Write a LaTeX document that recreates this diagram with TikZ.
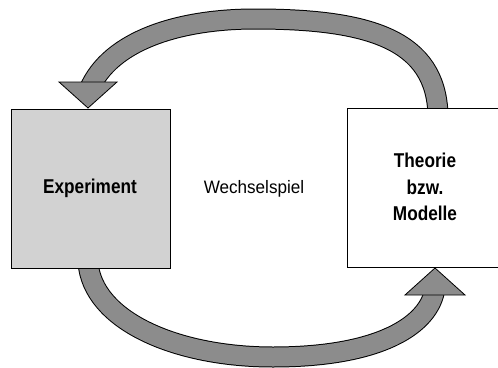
\documentclass[tikz,border=0pt]{standalone}
\usepackage{fontspec}
\usetikzlibrary{calc}
\newfontfamily\condfont[FakeStretch=0.86]{Liberation Sans}
\newfontfamily\narrowfont[FakeStretch=0.95]{Liberation Sans}
\definecolor{arrowgray}{HTML}{8C8C8C}
\definecolor{boxgray}{HTML}{D2D2D2}
\tikzset{
  panel/.style={draw=black, line width=0.8pt, inner sep=0pt, anchor=north west},
  boldlabel/.style={font=\condfont\bfseries\fontsize{20}{26.5}\selectfont, inner sep=0pt, align=center},
  plainlabel/.style={font=\narrowfont\fontsize{18}{22}\selectfont, inner sep=0pt},
  bandout/.style={draw=black, line width=21pt},
  bandin/.style={draw=arrowgray, line width=19pt},
  headtri/.style={fill=arrowgray, draw=black, line width=0.8pt, line join=miter}
}
\begin{document}
\begin{tikzpicture}[x=1pt,y=-1pt]
\useasboundingbox (0,0) rectangle (498,367);
% anchor coordinates
\coordinate (topstart) at (438,115);
\coordinate (toppeak) at (255,19);
\coordinate (topend) at (89,90);
\coordinate (toptip) at (88,108);
\coordinate (botstart) at (88,262);
\coordinate (botpeak) at (273,357);
\coordinate (botend) at (435,288);
\coordinate (bottip) at (435,268);
% top arrow (Theorie -> Experiment)
\foreach \s in {bandout,bandin}
  \draw[\s] (topstart) .. controls (436,40) and (370,19) .. (toppeak)
                       .. controls (180,19) and (110,40) .. (topend);
\draw[headtri] (59,82) -- (117,82) -- (toptip) -- cycle;
% bottom arrow (Experiment -> Theorie)
\foreach \s in {bandout,bandin}
  \draw[\s] (botstart) .. controls (92,320) and (175,357) .. (botpeak)
                       .. controls (380,357) and (430,325) .. (botend);
\draw[headtri] (405,295) -- (465,295) -- (bottip) -- cycle;
% boxes
\node[panel, fill=boxgray, minimum width=159pt, minimum height=159pt] (exp) at (11,109) {};
\node[panel, fill=white, minimum width=160pt, minimum height=159pt] (theo) at (347,108) {};
% texts
\node[boldlabel, anchor=base] (exptext) at (90,193) {Experiment};
\node[plainlabel, anchor=base] (wechsel) at (254,193) {Wechselspiel};
\node[boldlabel] (theotext) at (425,187) {Theorie\\bzw.\\Modelle};
\end{tikzpicture}
\end{document}
